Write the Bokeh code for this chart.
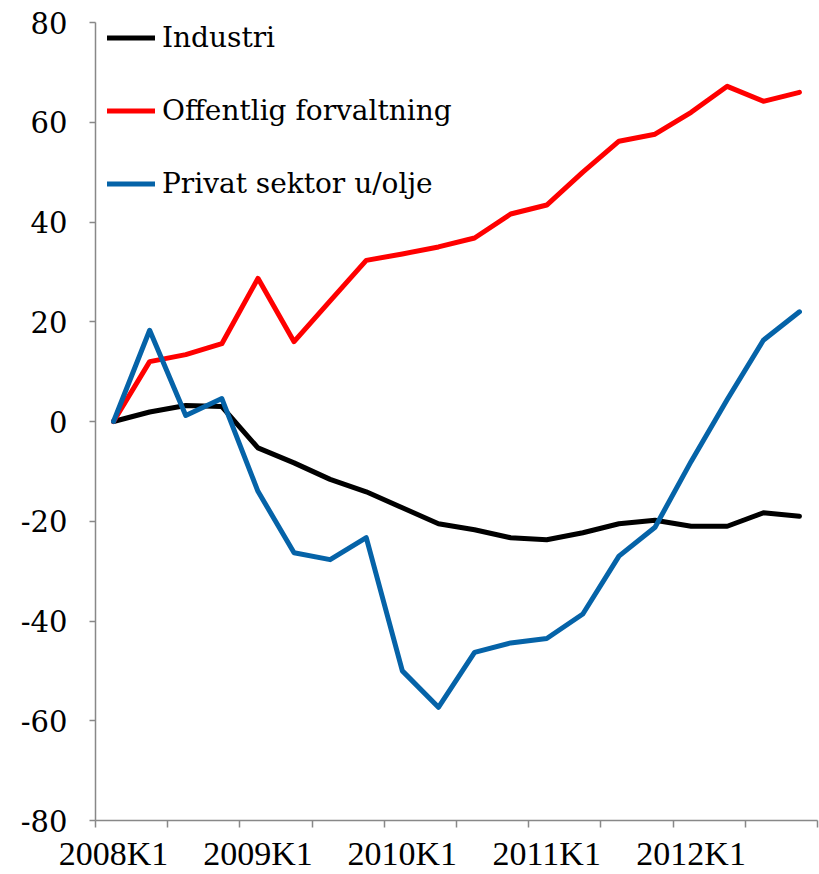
from bokeh.plotting import figure
from bokeh.models import FixedTicker, Legend, LegendItem, Range1d
from bokeh.embed import file_html
from bokeh.resources import INLINE

quarters = [f"{y}K{q}" for y in range(2008, 2013) for q in range(1, 5)]
industri = [0, 1.9, 3.2, 3.0, -5.3, -8.3, -11.6, -14.1, -17.3, -20.5,
            -21.7, -23.3, -23.7, -22.3, -20.5, -19.8, -21.0, -21.0, -18.3, -19.0]
offentlig = [0, 12.0, 13.4, 15.6, 28.7, 16.0, 24.2, 32.3, 33.6, 35.0,
             36.8, 41.6, 43.4, 50.0, 56.2, 57.6, 62.0, 67.2, 64.2, 66.0]
privat = [0, 18.3, 1.2, 4.6, -14.0, -26.3, -27.7, -23.3, -50.0, -57.3,
          -46.3, -44.4, -43.5, -38.6, -27.0, -21.2, -8.0, 4.4, 16.3, 22.0]
series_names = ["Industri", "Offentlig forvaltning", "Privat sektor u/olje"]
colors = ["#000000", "#FF0000", "#0563A8"]
y_ticks = [-80, -60, -40, -20, 0, 20, 40, 60, 80]
label_positions = [0, 4, 8, 12, 16]
boundary_ticks = [i - 0.5 for i in range(0, 21, 2)]

x = list(range(len(quarters)))

p = figure(width=819, height=874, output_backend="svg", toolbar_location=None,
           x_range=Range1d(-0.5, 19.5), y_range=Range1d(-80, 80),
           min_border_left=95, min_border_right=2, min_border_top=22,
           min_border_bottom=52)
p.outline_line_color = None
p.grid.visible = False

renderers = []
for vals, c in zip([industri, offentlig, privat], colors):
    r = p.line(x, vals, line_color=c, line_width=5, line_join="round", line_cap="round")
    renderers.append(r)

axis_gray = "#888888"
# y axis
yax = p.yaxis[0]
yax.ticker = FixedTicker(ticks=y_ticks)
yax.major_label_overrides = {t: str(t) for t in y_ticks}
yax.axis_line_color = axis_gray
yax.axis_line_width = 1.5
yax.major_tick_line_color = axis_gray
yax.major_tick_line_width = 1.5
yax.major_tick_out = 6
yax.major_tick_in = 0
yax.minor_tick_line_color = None
yax.major_label_text_font = "DejaVu Serif"
yax.major_label_text_font_size = "29px"
yax.major_label_text_color = "#000000"
yax.major_label_standoff = 22

# x axis
xax = p.xaxis[0]
xax.ticker = FixedTicker(ticks=label_positions, minor_ticks=boundary_ticks)
xax.major_label_overrides = {i: quarters[i] for i in label_positions}
xax.axis_line_color = axis_gray
xax.axis_line_width = 1.5
xax.major_tick_line_color = None
xax.major_tick_out = 0
xax.major_tick_in = 0
xax.minor_tick_line_color = axis_gray
xax.minor_tick_line_width = 1.5
xax.minor_tick_out = 7
xax.minor_tick_in = 0
xax.major_label_text_font = "Liberation Serif"
xax.major_label_text_font_size = "34px"
xax.major_label_text_color = "#000000"
xax.major_label_standoff = 7

legend = Legend(items=[LegendItem(label=n, renderers=[r]) for n, r in zip(series_names, renderers)])
legend.border_line_color = None
legend.background_fill_alpha = 0
legend.label_text_font = "DejaVu Serif"
legend.label_text_font_size = "28px"
legend.label_text_color = "#000000"
legend.glyph_width = 48
legend.glyph_height = 33
legend.label_height = 33
legend.label_standoff = 7
legend.spacing = 40
legend.padding = 0
legend.margin = 0
legend.location = (12, 620)
p.add_layout(legend)

open("out.html", "w").write(file_html(p, INLINE))
